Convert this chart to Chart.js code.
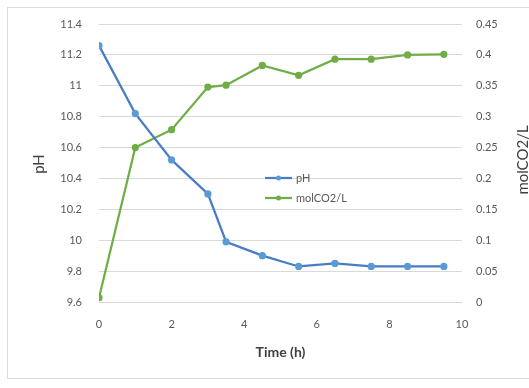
<!DOCTYPE html>
<html>
<head>
<meta charset="utf-8">
<script src="https://cdn.jsdelivr.net/npm/chart.js@4/dist/chart.umd.min.js"></script>
<style>
  html, body { margin: 0; padding: 0; background: #fff; }
  #wrap { width: 529px; height: 388px; }
</style>
</head>
<body>
<div id="wrap"><canvas id="myChart" width="529" height="388"></canvas></div>
<script>
// time in hours
var hours = [0, 1, 2, 3, 3.5, 4.5, 5.5, 6.5, 7.5, 8.5, 9.5];
var phVals = [11.26, 10.82, 10.52, 10.30, 9.99, 9.90, 9.83, 9.85, 9.83, 9.83, 9.83];
var co2Vals = [0.007, 0.25, 0.279, 0.348, 0.351, 0.383, 0.367, 0.393, 0.393, 0.400, 0.401];
var seriesNames = ['pH', 'molCO2/L'];

var blue = '#4a7cc4';
var blueDot = '#5b9bd5';
var green = '#70ad47';
var tickColor = '#595959';
var font = 'Lato, "Liberation Sans", sans-serif';

function pts(ys) {
  var out = [];
  for (var i = 0; i < hours.length; i++) {
    out.push({x: hours[i], y: ys[i]});
  }
  return out;
}

// frame + y titles + legend drawn by hand
var extras = {
  id: 'extras',
  beforeDraw: function(chart) {
    var ctx = chart.ctx;
    ctx.save();
    ctx.fillStyle = '#fff';
    ctx.fillRect(0, 0, chart.width, chart.height);
    ctx.strokeStyle = '#dcdcdc';
    ctx.lineWidth = 1;
    ctx.strokeRect(7.5, 7.5, 540, 371);
    ctx.restore();
  },
  afterDraw: function(chart) {
    var ctx = chart.ctx;
    ctx.save();
    ctx.fillStyle = '#404040';
    ctx.font = '15px ' + font;
    ctx.textAlign = 'center';
    ctx.textBaseline = 'middle';
    ctx.translate(39, 164);
    ctx.rotate(-Math.PI / 2);
    ctx.fillText('pH', 0, 0);
    ctx.restore();

    ctx.save();
    ctx.fillStyle = '#404040';
    ctx.font = '15px ' + font;
    ctx.textAlign = 'center';
    ctx.textBaseline = 'middle';
    ctx.translate(523, 160);
    ctx.rotate(-Math.PI / 2);
    ctx.fillText('molCO2/L', 0, 0);
    ctx.restore();

    var cols = [[blue, blueDot], [green, green]];
    for (var i = 0; i < seriesNames.length; i++) {
      var y = 178 + i * 20;
      ctx.save();
      ctx.strokeStyle = cols[i][0];
      ctx.lineWidth = 2.25;
      ctx.beginPath();
      ctx.moveTo(265, y);
      ctx.lineTo(292, y);
      ctx.stroke();
      ctx.fillStyle = cols[i][1];
      ctx.beginPath();
      ctx.arc(278.5, y, 2.5, 0, Math.PI * 2);
      ctx.fill();
      ctx.fillStyle = tickColor;
      ctx.font = '11px ' + font;
      ctx.textAlign = 'left';
      ctx.textBaseline = 'middle';
      ctx.fillText(seriesNames[i], 296, y);
      ctx.restore();
    }
  }
};

function fmt(v) {
  return String(+(+v).toFixed(2));
}

const config = {
  type: 'line',
  data: {
    datasets: [{
      label: seriesNames[0],
      data: pts(phVals),
      yAxisID: 'y',
      borderColor: blue,
      backgroundColor: blueDot,
      pointBackgroundColor: blueDot,
      pointBorderColor: blueDot,
      borderWidth: 2.25,
      pointRadius: 2.5,
      tension: 0
    }, {
      label: seriesNames[1],
      data: pts(co2Vals),
      yAxisID: 'y1',
      borderColor: green,
      backgroundColor: green,
      pointBackgroundColor: green,
      pointBorderColor: green,
      borderWidth: 2.25,
      pointRadius: 2.5,
      tension: 0
    }]
  },
  options: {
    responsive: false,
    animation: false,
    layout: { padding: { top: 24, right: 0, left: 0, bottom: 0 } },
    plugins: {
      legend: { display: false },
      tooltip: { enabled: false }
    },
    scales: {
      x: {
        type: 'linear',
        min: 0,
        max: 10,
        ticks: { stepSize: 2, color: tickColor, font: { family: font, size: 11 }, padding: 16 },
        grid: { display: false, drawTicks: false },
        border: { display: false },
        title: {
          display: true,
          text: 'Time (h)',
          color: '#404040',
          font: { family: font, size: 14, weight: 'bold' },
          padding: { top: 0, bottom: 27 }
        },
        afterFit: function(s) { s.height = 86; }
      },
      y: {
        position: 'left',
        min: 9.6,
        max: 11.4,
        ticks: { stepSize: 0.2, color: tickColor, font: { family: font, size: 11 }, padding: 17, callback: fmt },
        grid: { color: '#d9d9d9', drawTicks: false },
        border: { display: false },
        afterFit: function(s) { s.width = 99; }
      },
      y1: {
        position: 'right',
        min: 0,
        max: 0.45,
        ticks: { stepSize: 0.05, color: tickColor, font: { family: font, size: 11 }, padding: 14, callback: fmt },
        grid: { display: false, drawTicks: false },
        border: { display: false },
        afterFit: function(s) { s.width = 67; }
      }
    }
  },
  plugins: [extras]
};

const myChart = new Chart(document.getElementById('myChart'), config);
</script>
</body>
</html>
